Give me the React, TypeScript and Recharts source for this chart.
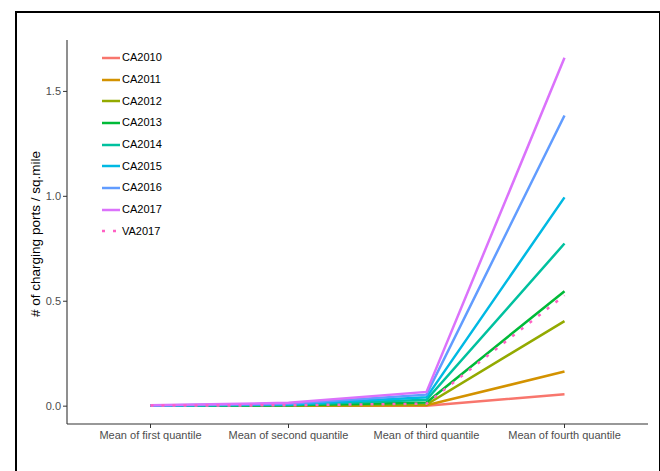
import React from 'react';
import { LineChart, Line, XAxis, YAxis } from 'recharts';

const categories = [
  'Mean of first quantile',
  'Mean of second quantile',
  'Mean of third quantile',
  'Mean of fourth quantile',
];

const CA2010 = [0.002, 0.002, 0.002, 0.057];
const CA2011 = [0.002, 0.002, 0.004, 0.165];
const CA2012 = [0.002, 0.003, 0.008, 0.405];
const CA2013 = [0.002, 0.004, 0.018, 0.548];
const CA2014 = [0.002, 0.006, 0.03, 0.775];
const CA2015 = [0.003, 0.008, 0.042, 0.995];
const CA2016 = [0.003, 0.011, 0.055, 1.385];
const CA2017 = [0.004, 0.016, 0.068, 1.66];
const VA2017 = [0.003, 0.004, 0.012, 0.528];

const yTicks = [0, 0.5, 1.0, 1.5];

const seriesNames = ['CA2010', 'CA2011', 'CA2012', 'CA2013', 'CA2014', 'CA2015', 'CA2016', 'CA2017', 'VA2017'];
const seriesValues = [CA2010, CA2011, CA2012, CA2013, CA2014, CA2015, CA2016, CA2017, VA2017];
const seriesColors = ['#F8766D', '#D39200', '#93AA00', '#00BA38', '#00C19F', '#00B9E3', '#619CFF', '#DB72FB', '#FF61C3'];
const seriesDotted = [false, false, false, false, false, false, false, false, true];

const data = categories.map((c, i) => {
  const row: Record<string, string | number> = { category: c };
  seriesNames.forEach((n, s) => {
    row[n] = seriesValues[s][i];
  });
  return row;
});

const FONT = '"Liberation Sans", Arial, Helvetica, sans-serif';
const DASH = '3 8';

const LegendBox = () => (
  <div style={{ fontFamily: FONT, fontSize: 11, color: '#000', lineHeight: 1 }}>
    {seriesNames.map((n, i) => (
      <div key={n} style={{ display: 'flex', alignItems: 'center', height: 21.7 }}>
        <svg width={20} height={6} style={{ marginRight: 1, display: 'block' }}>
          <line
            x1={1}
            y1={3}
            x2={19}
            y2={3}
            stroke={seriesColors[i]}
            strokeWidth={2.5}
            strokeDasharray={seriesDotted[i] ? DASH : undefined}
          />
        </svg>
        <span>{n}</span>
      </div>
    ))}
  </div>
);

export default function App() {
  return (
    <div style={{ position: 'absolute', left: 0, top: 0, width: 660, height: 471, background: '#fff', overflow: 'hidden' }}>
      <div
        style={{
          position: 'absolute',
          left: 15,
          top: 11,
          width: 646,
          height: 520,
          border: '2px solid #000',
          boxSizing: 'border-box',
        }}
      />
      <div style={{ position: 'absolute', left: 0, top: 0 }}>
        <LineChart width={660} height={471} data={data} margin={{ top: 40, right: 12, bottom: 16, left: 27 }}>
          <XAxis
            dataKey="category"
            padding={{ left: 83.5, right: 83.5 }}
            height={31}
            tickSize={4}
            tickMargin={3}
            axisLine={{ stroke: '#333', strokeWidth: 1.1 }}
            tickLine={{ stroke: '#333' }}
            tick={{ fill: '#4D4D4D', fontSize: 11, fontFamily: FONT }}
            interval={0}
          />
          <YAxis
            type="number"
            domain={[-0.085, 1.745]}
            ticks={yTicks}
            allowDataOverflow
            width={40}
            tickSize={4}
            tickMargin={2}
            tickFormatter={(v: number) => v.toFixed(1)}
            axisLine={{ stroke: '#333', strokeWidth: 1.1 }}
            tickLine={{ stroke: '#333' }}
            tick={{ fill: '#4D4D4D', fontSize: 11, fontFamily: FONT }}
            label={{
              content: (props: any) => {
                const vb = props.viewBox || {};
                const cx = vb.x + 8;
                const cy = vb.y + vb.height / 2 + 2;
                return (
                  <text
                    x={cx}
                    y={cy}
                    transform={`rotate(-90, ${cx}, ${cy})`}
                    textAnchor="middle"
                    dominantBaseline="central"
                    fontSize={13.5}
                    fontFamily={FONT}
                    fill="#000"
                  >
                    # of charging ports / sq.mile
                  </text>
                );
              },
            }}
          />
          {seriesNames.map((n, i) => (
            <Line
              key={n}
              type="linear"
              dataKey={n}
              stroke={seriesColors[i]}
              strokeWidth={2.5}
              strokeDasharray={seriesDotted[i] ? DASH : undefined}
              dot={false}
              activeDot={false}
              isAnimationActive={false}
            />
          ))}
        </LineChart>
      </div>
      <div style={{ position: 'absolute', left: 101, top: 47 }}>
        <LegendBox />
      </div>
    </div>
  );
}
